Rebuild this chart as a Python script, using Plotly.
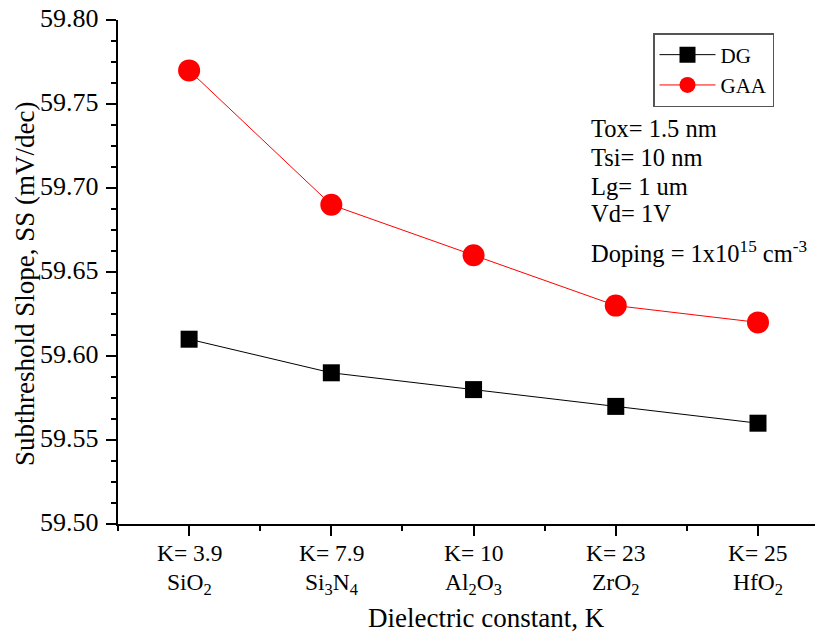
import plotly.graph_objects as go

cat_k = ["K= 3.9", "K= 7.9", "K= 10", "K= 23", "K= 25"]
cat_material = ["SiO<sub>2</sub>", "Si<sub>3</sub>N<sub>4</sub>", "Al<sub>2</sub>O<sub>3</sub>",
                "ZrO<sub>2</sub>", "HfO<sub>2</sub>"]
dg_values = [59.61, 59.59, 59.58, 59.57, 59.56]
gaa_values = [59.77, 59.69, 59.66, 59.63, 59.62]
y_ticks = [59.50, 59.55, 59.60, 59.65, 59.70, 59.75, 59.80]
y_ticklabels = ["59.50", "59.55", "59.60", "59.65", "59.70", "59.75", "59.80"]
notes = ["Tox= 1.5 nm", "Tsi= 10 nm", "Lg= 1 um", "Vd= 1V",
         "Doping = 1x10<sup>15</sup> cm<sup>-3</sup>"]

FONT = "'Liberation Serif', 'Times New Roman', Times, serif"
xpos = list(range(len(cat_k)))

# page body has an 8px margin; plot area targets x 118..822, y 20..524 on screen
OFF = 8
L, T, R, B = 118, 20, 822, 524
W, H = 823 - OFF, 635 - OFF
PW, PH = R - L, B - T

def px(x):
    return (x - L) / PW

def py(y):
    return (B - y) / PH

fig = go.Figure()
fig.add_trace(go.Scatter(x=xpos, y=dg_values, name="DG", mode="lines+markers",
                         line=dict(color="black", width=1),
                         marker=dict(symbol="square", size=17, color="black")))
fig.add_trace(go.Scatter(x=xpos, y=gaa_values, name="GAA", mode="lines+markers",
                         line=dict(color="red", width=1),
                         marker=dict(symbol="circle", size=22, color="red")))

fig.update_layout(
    template="none",
    width=W, height=H,
    margin=dict(l=L - OFF, r=W - (R - OFF), t=T - OFF, b=H - (B - OFF)),
    paper_bgcolor="white", plot_bgcolor="white",
    font=dict(family=FONT, size=24, color="black"),
    showlegend=True,
    legend=dict(x=px(653), y=py(33), xanchor="left", yanchor="top",
                bordercolor="#555555", borderwidth=1.5, bgcolor="white",
                font=dict(family=FONT, size=21), tracegroupgap=0, itemwidth=56),
    xaxis=dict(range=[-0.5, 4.45], tickmode="array", tickvals=xpos, showticklabels=False,
               showgrid=False, zeroline=False, showline=True, linecolor="black", linewidth=2,
               ticks="outside", ticklen=10, tickwidth=2, tickcolor="black",
               minor=dict(tickvals=[-0.5, 0.5, 1.5, 2.5, 3.5], ticks="outside", ticklen=5,
                          tickwidth=2, tickcolor="black")),
    yaxis=dict(range=[59.5, 59.8], tickmode="array", tickvals=y_ticks, showticklabels=False,
               showgrid=False, zeroline=False, showline=True, linecolor="black", linewidth=2,
               ticks="outside", ticklen=10, tickwidth=2, tickcolor="black",
               minor=dict(dtick=0.0125, ticks="outside", ticklen=5, tickwidth=2,
                          tickcolor="black", showgrid=False)),
)

# tick labels (serif), placed through the axes' own scales
for v, lab in zip(y_ticks, y_ticklabels):
    fig.add_annotation(text=lab, xref="paper", yref="y", x=px(101), y=v, yshift=2,
                       showarrow=False, xanchor="right", yanchor="middle",
                       font=dict(family=FONT, size=26))
for i, (k, m) in enumerate(zip(cat_k, cat_material)):
    fig.add_annotation(text=k, xref="x", yref="paper", x=i, y=py(553),
                       showarrow=False, xanchor="center", yanchor="middle",
                       font=dict(family=FONT, size=23.5))
    fig.add_annotation(text=m, xref="x", yref="paper", x=i, y=py(584),
                       showarrow=False, xanchor="center", yanchor="middle",
                       font=dict(family=FONT, size=23.5))

fig.add_annotation(text="Dielectric constant, K", xref="paper", yref="paper",
                   x=px(486), y=py(618), showarrow=False,
                   xanchor="center", yanchor="middle", font=dict(family=FONT, size=27))
fig.add_annotation(text="Subthreshold Slope, SS (mV/dec)", xref="paper", yref="paper",
                   x=px(25), y=py(284), showarrow=False, textangle=-90,
                   xanchor="center", yanchor="middle", font=dict(family=FONT, size=27))

note_y = [128, 157, 186, 213, 252]
for t, yy in zip(notes, note_y):
    fig.add_annotation(text=t, xref="paper", yref="paper", x=px(589),
                       y=py(yy), showarrow=False, xanchor="left", yanchor="middle",
                       font=dict(family=FONT, size=24.5))

fig.write_html("out.html")
